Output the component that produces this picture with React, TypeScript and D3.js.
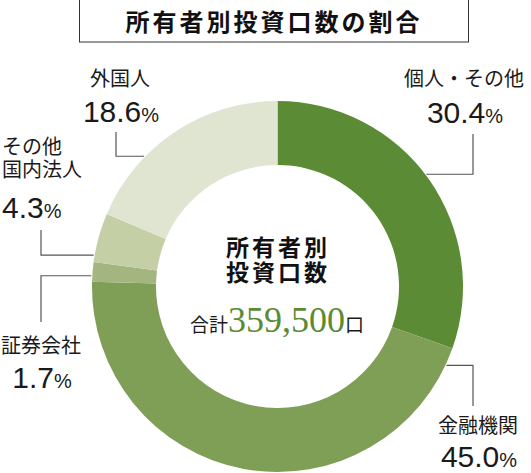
import { useEffect } from 'react'
import * as d3 from 'd3'

// Data
const categories = ['個人・その他', '金融機関', '証券会社', 'その他国内法人', '外国人']
const labelLines = [['個人・その他'], ['金融機関'], ['証券会社'], ['その他', '国内法人'], ['外国人']]
const shares = [30.4, 45.0, 1.7, 4.3, 18.6]
const sliceColors = ['#5b8b34', '#7f9e56', '#a3b67f', '#c4cfa6', '#e0e5d2']
const totalText = '359,500'
const title = '所有者別投資口数の割合'
const centerLines = ['所有者別', '投資口数']

const W = 531
const H = 473
const cx = 277.5
const cy = 286.5
const R = 185.5
const r = 121.5

const JP = '"Noto Sans CJK JP", "Noto Sans", sans-serif'
const NUM = '"Liberation Sans", Arial, sans-serif'
const SERIF = '"Liberation Serif", "Times New Roman", serif'

// label layout: text anchor, connector ring angle (deg from top, clockwise), elbow
const layout = [
  { x: 464, y: 86, anchor: 'middle', angle: 53, elbow: { x: 473, y: 134 }, pct: 123 },
  { x: 478, y: 433, anchor: 'middle', angle: 115, elbow: { x: 473, y: 406 }, pct: 467 },
  { x: 41, y: 353, anchor: 'middle', angle: 273.3, elbow: { x: 41, y: 322 }, pct: 388 },
  { x: 2, y: 154, anchor: 'start', angle: 279.7, elbow: { x: 41, y: 230 }, pct: 218 },
  { x: 120, y: 86, anchor: 'middle', angle: 314.3, elbow: { x: 116, y: 132 }, pct: 122 },
]

export default function App() {
  useEffect(() => {
    document.body.style.margin = '0'
  }, [])

  const pie = d3.pie<number>().sort(null).value((d) => d)
  const arcs = pie(shares)
  const arc = d3.arc<d3.PieArcDatum<number>>().innerRadius(r).outerRadius(R)

  const polar = (deg: number, rad: number) => {
    const a = (deg * Math.PI) / 180
    return [cx + rad * Math.sin(a), cy - rad * Math.cos(a)]
  }

  return (
    <svg width={W} height={H} viewBox={`0 0 ${W} ${H}`} style={{ display: 'block' }}>
      <rect width={W} height={H} fill="#fff" />

      {/* Title */}
      <rect x={79.5} y={-1} width={389} height={43} fill="none" stroke="#333" strokeWidth={1} />
      <text
        x={274}
        y={31}
        textAnchor="middle"
        fontFamily={JP}
        fontWeight={700}
        fontSize={24}
        letterSpacing={3}
        fill="#111"
      >
        {title}
      </text>

      {/* Donut */}
      <g transform={`translate(${cx},${cy})`}>
        {arcs.map((a, i) => (
          <path key={categories[i]} d={arc(a)!} fill={sliceColors[i]} />
        ))}
      </g>

      {/* Connectors */}
      {layout.map((l, i) => {
        const [ex, ey] = polar(l.angle, R + 1)
        const pts = `${ex},${ey} ${l.elbow.x},${ey} ${l.elbow.x},${l.elbow.y}`
        return (
          <polyline key={i} points={pts} fill="none" stroke="#555" strokeWidth={1.2} />
        )
      })}

      {/* Labels */}
      {layout.map((l, i) => (
        <g key={categories[i]} fill="#1a1a1a">
          {labelLines[i].map((line, j) => (
            <text
              key={j}
              x={l.x}
              y={l.y + j * 23}
              textAnchor={l.anchor}
              fontFamily={JP}
              fontSize={20}
            >
              {line}
            </text>
          ))}
          <text x={l.x + (l.anchor === 'middle' ? 1 : 0)} y={l.pct} textAnchor={l.anchor} fontFamily={NUM}>
            <tspan fontSize={30}>{shares[i].toFixed(1)}</tspan>
            <tspan fontSize={20}>%</tspan>
          </text>
        </g>
      ))}

      {/* Center */}
      {centerLines.map((line, j) => (
        <text
          key={line}
          x={278}
          y={256 + j * 25}
          textAnchor="middle"
          fontFamily={JP}
          fontWeight={700}
          fontSize={23}
          letterSpacing={3}
          fill="#111"
        >
          {line}
        </text>
      ))}
      <text x={277} y={332} textAnchor="middle" fill="#1a1a1a">
        <tspan fontFamily={JP} fontSize={19}>合計</tspan>
        <tspan fontFamily={SERIF} fontSize={36} fill="#5b8b34">{totalText}</tspan>
        <tspan fontFamily={JP} fontSize={19}>口</tspan>
      </text>
    </svg>
  )
}
